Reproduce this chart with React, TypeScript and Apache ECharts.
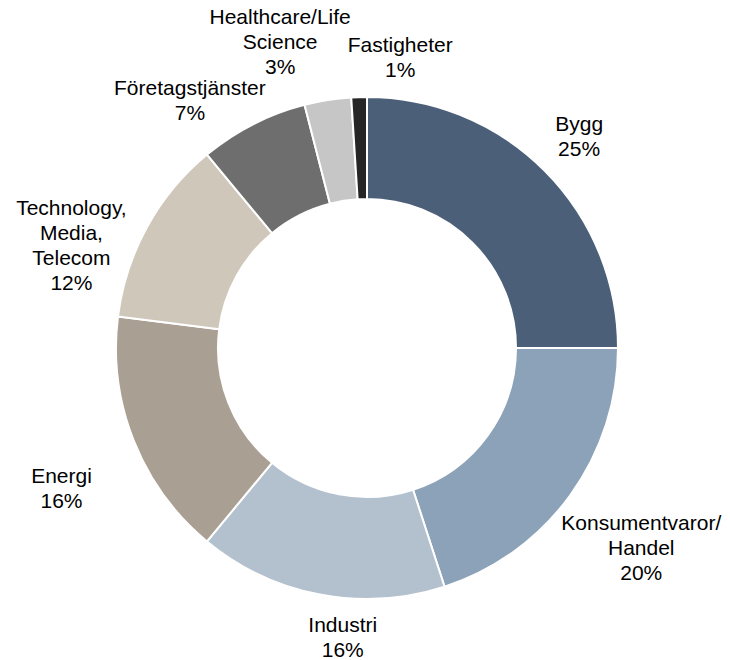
import React, { useEffect, useRef } from "react";
import * as echarts from "echarts";

const categories = [
  "Bygg",
  "Konsumentvaror/\nHandel",
  "Industri",
  "Energi",
  "Technology,\nMedia,\nTelecom",
  "Företagstjänster",
  "Healthcare/Life\nScience",
  "Fastigheter",
];
const values = [25, 20, 16, 16, 12, 7, 3, 1];
const colors = [
  "#4B5F79",
  "#8CA2B8",
  "#B3C0CD",
  "#A9A093",
  "#CFC7BA",
  "#6E6E6E",
  "#C6C6C6",
  "#262626",
];
// label placement: distance from centre (px) and angular shift (deg) from slice mid-angle
const labelRadius = [300, 339, 290, 336, 313, 305, 319, 293];
const labelAngleShift = [0, 0, -6, -3, -9.6, -8.5, -6.8, 8.3];

const CX = 367;
const CY = 348;

export default function App() {
  const ref = useRef<HTMLDivElement>(null);
  useEffect(() => {
    if (!ref.current) return;
    const chart = echarts.init(ref.current, null, { renderer: "svg" });
    const total = values.reduce((a, b) => a + b, 0);
    const mids: number[] = [];
    let cum = 0;
    values.forEach((v) => {
      mids.push(((cum + v / 2) / total) * 360);
      cum += v;
    });
    chart.setOption({
      animation: false,
      backgroundColor: "#ffffff",
      series: [
        {
          type: "pie",
          center: [CX, CY],
          radius: [149, 251],
          startAngle: 90,
          clockwise: true,
          avoidLabelOverlap: false,
          itemStyle: { borderColor: "#ffffff", borderWidth: 2 },
          label: {
            show: true,
            position: "outside",
            formatter: "{b}\n{c}%",
            color: "#000000",
            fontFamily: "'Liberation Sans', Arial, sans-serif",
            fontSize: 21,
            lineHeight: 25,
            align: "center",
          },
          labelLine: { show: false },
          emphasis: { disabled: true },
          labelLayout: (params: any) => {
            const i = params.dataIndex;
            const a = ((mids[i] + labelAngleShift[i]) * Math.PI) / 180;
            const r = labelRadius[i];
            return {
              x: CX + r * Math.sin(a),
              y: CY - r * Math.cos(a),
              align: "center",
              verticalAlign: "middle",
            };
          },
          data: categories.map((name, i) => ({
            name,
            value: values[i],
            itemStyle: { color: colors[i] },
          })),
        },
      ],
    });
    return () => chart.dispose();
  }, []);
  return (
    <div
      ref={ref}
      style={{ position: "absolute", left: 0, top: 0, width: 730, height: 660 }}
    />
  );
}
